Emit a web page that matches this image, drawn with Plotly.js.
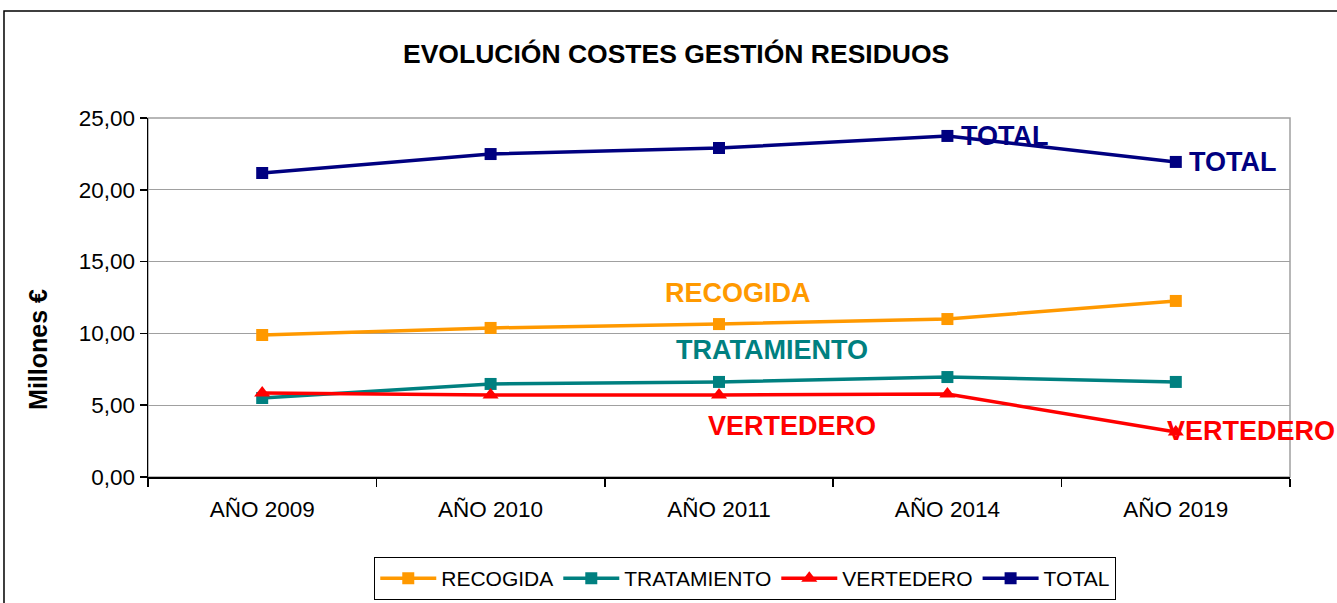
<!DOCTYPE html>
<html>
<head>
<meta charset="utf-8">
<script src="https://cdn.plot.ly/plotly-3.0.1.min.js"></script>
<style>
html,body{margin:0;padding:0;background:#fff;}
#chart{width:1337px;height:603px;}
</style>
</head>
<body>
<div id="chart"></div>
<script>
const categories = ["AÑO 2009", "AÑO 2010", "AÑO 2011", "AÑO 2014", "AÑO 2019"];
const recogida = [9.89, 10.38, 10.65, 11.00, 12.26];
const tratamiento = [5.50, 6.48, 6.62, 6.96, 6.62];
const vertedero = [5.85, 5.71, 5.71, 5.78, 3.13];
const total = [21.17, 22.49, 22.91, 23.75, 21.94];
const seriesNames = ["RECOGIDA", "TRATAMIENTO", "VERTEDERO", "TOTAL"];
const colors = ["#FF9900", "#008080", "#FF0000", "#000080"];

const FONT = "Liberation Sans, Arial, sans-serif";

function mk(name, y, color, symbol) {
  return {
    type: "scatter", mode: "lines+markers", name: name,
    x: categories, y: y,
    line: {color: color, width: 3.5},
    marker: {color: color, symbol: symbol, size: symbol === "triangle-up" ? 14 : 12}
  };
}

const data = [
  mk(seriesNames[0], recogida, colors[0], "square"),
  mk(seriesNames[1], tratamiento, colors[1], "square"),
  mk(seriesNames[2], vertedero, colors[2], "triangle-up"),
  mk(seriesNames[3], total, colors[3], "square")
];

const lblFont = (c) => ({family: FONT, size: 27, color: c});

const annotations = [
  {text: "<b>TOTAL</b>", x: 3, y: total[3], xref: "x", yref: "y", xanchor: "left", yanchor: "middle", xshift: 12, showarrow: false, font: lblFont(colors[3])},
  {text: "<b>TOTAL</b>", x: 4, y: total[4], xref: "x", yref: "y", xanchor: "left", yanchor: "middle", xshift: 11, showarrow: false, font: lblFont(colors[3])},
  {text: "<b>RECOGIDA</b>", x: 2.084, y: 12.81, xref: "x", yref: "y", xanchor: "center", yanchor: "middle", showarrow: false, font: lblFont(colors[0])},
  {text: "<b>TRATAMIENTO</b>", x: 2.23, y: 8.84, xref: "x", yref: "y", xanchor: "center", yanchor: "middle", showarrow: false, font: lblFont(colors[1])},
  {text: "<b>VERTEDERO</b>", x: 2.32, y: 3.55, xref: "x", yref: "y", xanchor: "center", yanchor: "middle", showarrow: false, font: lblFont(colors[2])},
  {text: "<b>VERTEDERO</b>", x: 4, y: 3.2, xref: "x", yref: "y", xanchor: "left", yanchor: "middle", xshift: -11, showarrow: false, font: lblFont(colors[2])},
  {text: "<b>Millones €</b>", x: -0.0963, y: 0.354, xref: "paper", yref: "paper", xanchor: "center", yanchor: "middle", textangle: -90, showarrow: false, font: {family: FONT, size: 25, color: "#000"}}
];

const layout = {
  width: 1337, height: 603,
  margin: {l: 148, r: 47, t: 118, b: 126, autoexpand: false},
  paper_bgcolor: "#fff", plot_bgcolor: "#fff",
  separators: ",.",
  font: {family: FONT, color: "#000"},
  title: {text: "<b>EVOLUCIÓN COSTES GESTIÓN RESIDUOS</b>", x: 0.5057, xref: "container", y: 0.911, yanchor: "middle", xanchor: "center", font: {family: FONT, size: 26.5, color: "#000"}},
  xaxis: {
    type: "category", range: [-0.5, 4.5], tickson: "boundaries",
    ticks: "outside", ticklen: 8, tickcolor: "#000", tickwidth: 1.5,
    showline: true, linecolor: "#000", linewidth: 1.5, showgrid: false, zeroline: false,
    ticklabelstandoff: 11,
    tickfont: {family: FONT, size: 22.5, color: "#000"}
  },
  yaxis: {
    range: [0, 25], dtick: 5, tickformat: ".2f",
    ticks: "outside", ticklen: 7, tickcolor: "#000", tickwidth: 1.5,
    showline: true, linecolor: "#000", linewidth: 1.5,
    showgrid: true, gridcolor: "#a0a0a0", gridwidth: 1, zeroline: false,
    tickfont: {family: FONT, size: 22.5, color: "#000"}
  },
  showlegend: true,
  legend: {
    orientation: "h", x: 0.523, xanchor: "center", y: -0.223, yanchor: "top",
    bordercolor: "#000", borderwidth: 1, font: {family: FONT, size: 21, color: "#000"},
    itemwidth: 56, tracegroupgap: 0
  },
  shapes: [
    {type: "rect", xref: "paper", yref: "paper", x0: 0, x1: 1, y0: 0, y1: 1, line: {color: "#a0a0a0", width: 1.5}, layer: "below"},
    {type: "rect", xref: "paper", yref: "paper", x0: -0.1261, x1: 1.3, y0: -0.6, y1: 1.298, line: {color: "#000", width: 1.5}, layer: "below"}
  ],
  annotations: annotations
};

Plotly.newPlot("chart", data, layout, {displayModeBar: false, staticPlot: true});
</script>
</body>
</html>
